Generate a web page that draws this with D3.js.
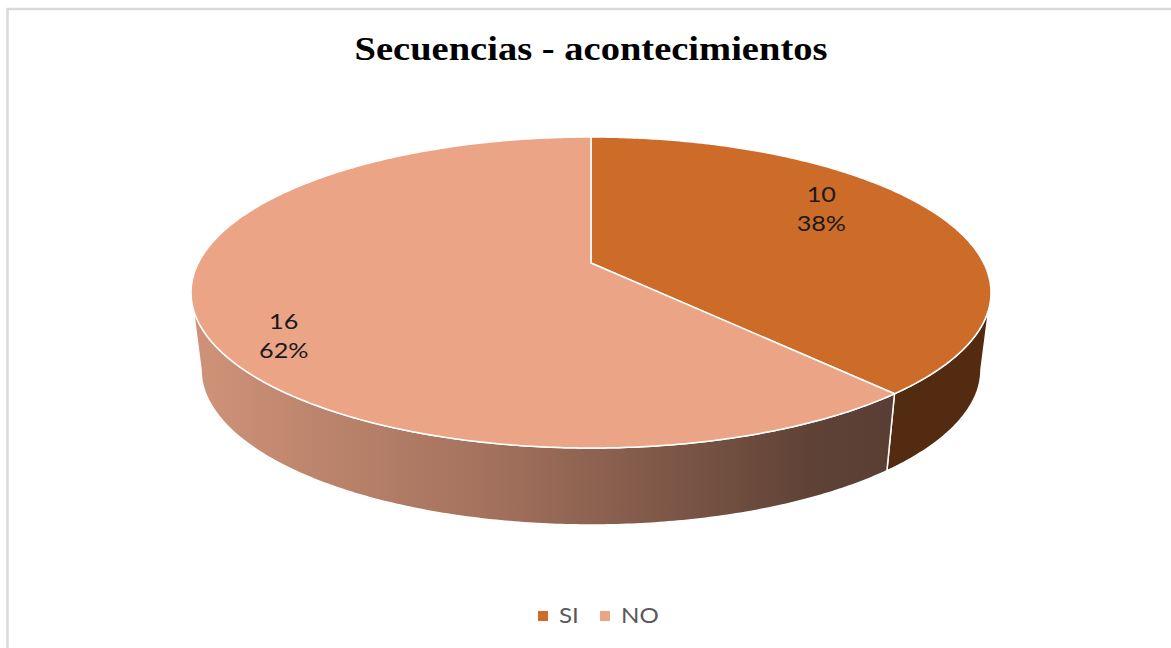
<!DOCTYPE html>
<html><head><meta charset="utf-8">
<script src="https://cdn.jsdelivr.net/npm/d3@7"></script>
<style>html,body{margin:0;padding:0;background:#fff;}svg{display:block;}</style>
</head><body>
<svg id="chart" width="1171" height="648"></svg>
<script>
const title = "Secuencias - acontecimientos";
const categories = ["SI", "NO"];
const values = [10, 16];
const topColors = ["#CD6B29", "#EBA586"];
const sideColors = ["#532B10", null];

const W = 1171, H = 648;
const svg = d3.select("#chart");

// frame
svg.append("rect").attr("x", 7.5).attr("y", 9).attr("width", 1170).attr("height", 700)
  .attr("fill", "none").attr("stroke", "#d9d9d9").attr("stroke-width", 2.5);

// title
svg.append("text").attr("x", 591).attr("y", 60).attr("text-anchor", "middle")
  .attr("font-family", "Liberation Serif, Times New Roman, serif").attr("font-weight", "bold")
  .attr("font-size", 34).attr("fill", "#000")
  .attr("textLength", 473).attr("lengthAdjust", "spacingAndGlyphs")
  .text(title);

// perspective projection of a disc
const cx = 591, cy = 263, A = 392.7, B = 149.9, k = 0.1897;
const depth = 77, sx = 0.975;
function proj(theta, r, bottom) {
  const u = r * Math.sin(theta), v = -r * Math.cos(theta);
  const w = 1 - k * v;
  let dx = A * u / w, dy = B * v / w;
  if (bottom) return [cx + sx * dx, cy + depth + dy];
  return [cx + dx, cy + dy];
}

const total = d3.sum(values);
const pie = d3.pie().sort(null).value(d => d)(values);
const toRad = Math.PI / 180;
const thL = (360 - 100.94) * toRad, thR = 100.94 * toRad; // silhouette angles

function arcPts(a0, a1, bottom) {
  const n = Math.max(2, Math.ceil(Math.abs(a1 - a0) / 0.01));
  const pts = [];
  for (let i = 0; i <= n; i++) pts.push(proj(a0 + (a1 - a0) * i / n, 1, bottom));
  return pts;
}

// gradient for NO side
const defs = svg.append("defs");
const grad = defs.append("linearGradient").attr("id", "sideGrad")
  .attr("gradientUnits", "userSpaceOnUse").attr("x1", 191).attr("x2", 895).attr("y1", 0).attr("y2", 0);
[[0, "#d09379"], [0.45, "#a06f5b"], [0.88, "#5f4236"], [1, "#5a3e35"]]
  .forEach(s => grad.append("stop").attr("offset", s[0]).attr("stop-color", s[1]));

const line = d3.line();

// sides
pie.forEach((p, i) => {
  const a0 = Math.max(p.startAngle, thR), a1 = Math.min(p.endAngle, thL);
  if (a1 <= a0) return;
  const top = arcPts(a0, a1, false);
  const bot = arcPts(a1, a0, true);
  svg.append("path").attr("d", line(top.concat(bot)) + "Z")
    .attr("fill", sideColors[i] || "url(#sideGrad)")
    .attr("stroke", "#fff").attr("stroke-width", 1.5).attr("stroke-linejoin", "round");
});

// tops
pie.forEach((p, i) => {
  const pts = [[cx, cy]].concat(arcPts(p.startAngle, p.endAngle, false));
  svg.append("path").attr("d", line(pts) + "Z")
    .attr("fill", topColors[i]).attr("stroke", "#fff").attr("stroke-width", 1.5)
    .attr("stroke-linejoin", "round");
});

// labels
pie.forEach((p, i) => {
  const mid = (p.startAngle + p.endAngle) / 2 - 11 * toRad;
  const [x, y] = proj(mid, 0.8, false);
  const g = svg.append("g").attr("transform", `translate(${x - 17},${y + 4}) scale(1.2,1)`);
  const t = g.append("text").attr("text-anchor", "middle")
    .attr("font-family", "Lato, Open Sans, sans-serif").attr("font-size", 21).attr("fill", "#1a1a1a");
  t.append("tspan").attr("x", 0).attr("y", -7).text(values[i]);
  t.append("tspan").attr("x", 0).attr("y", 22).text(Math.round(values[i] / total * 100) + "%");
});

// legend
const legX = d3.scaleOrdinal().domain(categories).range([538, 600]);
categories.forEach((c, i) => {
  svg.append("rect").attr("x", legX(c)).attr("y", 611).attr("width", 10).attr("height", 10)
    .attr("fill", topColors[i]);
  svg.append("g").attr("transform", `translate(${legX(c) + 21},623) scale(1.15,1)`)
    .append("text").attr("font-family", "Lato, Open Sans, sans-serif").attr("font-size", 21)
    .attr("fill", "#595959").text(c);
});
</script>
</body></html>
